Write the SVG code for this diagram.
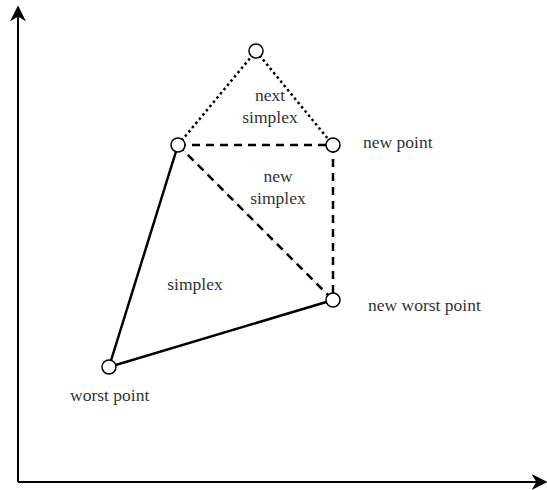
<svg xmlns="http://www.w3.org/2000/svg" width="547" height="490" viewBox="0 0 547 490">
<style>
text{font-family:"Liberation Serif","Times New Roman",serif;font-size:17.5px;fill:#333}
.pt{fill:#fff;stroke:#000;stroke-width:1.5}
.solid{stroke:#000;stroke-width:2.5;fill:none}
.dash{stroke:#000;stroke-width:2.5;stroke-dasharray:8,6;fill:none}
.dot{stroke:#000;stroke-width:2.5;stroke-dasharray:2.5,3;fill:none}
.axis{stroke:#000;stroke-width:2;fill:none}
</style>
<defs>
<marker id="ah" viewBox="0 0 10 10" refX="9" refY="5" markerWidth="8" markerHeight="8" orient="auto" markerUnits="strokeWidth">
<path d="M0,0 L10,5 L0,10 L3,5 Z" fill="#000"/>
</marker>
</defs>
<g id="axes">
<line class="axis" x1="18" y1="482" x2="18" y2="7" marker-end="url(#ah)"/>
<line class="axis" x1="18" y1="482" x2="546" y2="482" marker-end="url(#ah)"/>
</g>
<g id="connectors">
<line class="solid" x1="178" y1="145" x2="109" y2="367"/>
<line class="solid" x1="109" y1="367" x2="333" y2="300"/>
<line stroke="#ccc" stroke-width="1" x1="178" y1="145" x2="333" y2="300"/>
<line class="dash" x1="178" y1="145" x2="333" y2="300"/>
<line class="dash" x1="178" y1="145" x2="333" y2="145"/>
<line class="dash" x1="333" y1="145" x2="333" y2="300"/>
<line class="dot" x1="178" y1="145" x2="256" y2="51"/>
<line class="dot" x1="256" y1="51" x2="333" y2="145"/>
</g>
<g id="p-top"><circle class="pt" cx="256" cy="51" r="7"/></g>
<g id="p-left"><circle class="pt" cx="178" cy="145" r="7"/></g>
<g id="p-new"><circle class="pt" cx="333" cy="145" r="7"/><text x="363" y="148">new point</text></g>
<g id="p-newworst"><circle class="pt" cx="333" cy="300" r="7"/><text x="368" y="311">new worst point</text></g>
<g id="p-worst"><circle class="pt" cx="109" cy="367" r="7"/><text x="70" y="401">worst point</text></g>
<g id="labels">
<text x="270" y="101" text-anchor="middle">next</text>
<text x="270" y="123" text-anchor="middle">simplex</text>
<text x="278" y="182" text-anchor="middle">new</text>
<text x="278" y="204" text-anchor="middle">simplex</text>
<text x="195" y="290" text-anchor="middle">simplex</text>
</g>
</svg>
